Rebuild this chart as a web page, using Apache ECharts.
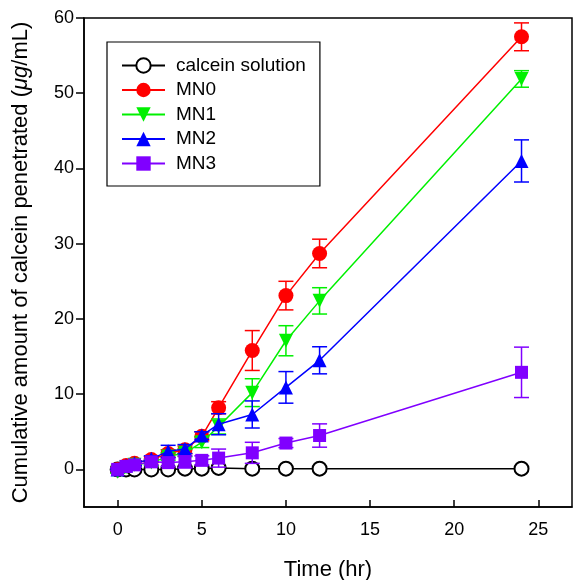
<!DOCTYPE html>
<html>
<head>
<meta charset="utf-8">
<script src="https://cdn.jsdelivr.net/npm/echarts@6/dist/echarts.min.js"></script>
<style>
  html, body { margin: 0; padding: 0; background: #fff; }
  #chart { width: 576px; height: 580px; }
</style>
</head>
<body>
<div id="chart"></div>
<script>
// sampling times (hr)
const times = [0, 0.5, 1, 2, 3, 4, 5, 6, 8, 10, 12, 24];

const calcein    = [0, 0, 0, 0, 0, 0.1, 0.1, 0.2, 0.1, 0.1, 0.1, 0.1];
const calceinErr = [0, 0, 0, 0, 0, 0, 0, 0, 0, 0, 0, 0];
const mn0    = [0, 0.5, 0.8, 1.3, 2.1, 2.6, 4.4, 8.2, 15.8, 23.1, 28.7, 57.5];
const mn0Err = [0.1, 0.3, 0.3, 0.4, 0.5, 0.5, 0.6, 0.8, 2.65, 1.9, 1.9, 1.85];
const mn1    = [-0.3, 0.3, 0.6, 0.9, 1.7, 2.2, 3.6, 5.7, 10.2, 17.1, 22.4, 51.9];
const mn1Err = [0.2, 0.3, 0.3, 0.4, 0.5, 0.5, 0.7, 1.0, 1.85, 2.0, 1.75, 1.1];
const mn2    = [0, 0.5, 0.8, 1.4, 2.4, 2.7, 4.5, 6.0, 7.3, 10.9, 14.5, 41.0];
const mn2Err = [0.1, 0.3, 0.3, 0.4, 0.8, 0.6, 0.5, 1.4, 1.8, 2.1, 1.8, 2.8];
const mn3    = [0, 0.4, 0.6, 1.0, 0.9, 1.0, 1.2, 1.5, 2.2, 3.5, 4.5, 12.9];
const mn3Err = [0.2, 0.3, 0.3, 0.4, 0.5, 0.8, 0.6, 1.2, 1.4, 0.6, 1.55, 3.35];

const xTicks = [0, 5, 10, 15, 20, 25];
const yTicks = [0, 10, 20, 30, 40, 50, 60];

const FONT = 'Arial, "Liberation Sans", sans-serif';

const groups = [
  { name: 'calcein solution', vals: calcein, errs: calceinErr, color: '#000000', symbol: 'emptyCircle', size: 14 },
  { name: 'MN0', vals: mn0, errs: mn0Err, color: '#ff0000', symbol: 'circle', size: 15 },
  { name: 'MN1', vals: mn1, errs: mn1Err, color: '#00f000', symbol: 'triangle', size: 14, rotate: 180 },
  { name: 'MN2', vals: mn2, errs: mn2Err, color: '#0000ff', symbol: 'triangle', size: 14 },
  { name: 'MN3', vals: mn3, errs: mn3Err, color: '#8000ff', symbol: 'rect', size: 13 }
];

function errorBar(color) {
  return function (params, api) {
    const x = api.value(0), y = api.value(1), e = api.value(2);
    if (!e) return null;
    const top = api.coord([x, y + e]);
    const bot = api.coord([x, y - e]);
    const w = 7.5;
    const style = { stroke: color, lineWidth: 1.5 };
    return {
      type: 'group',
      children: [
        { type: 'line', shape: { x1: top[0], y1: top[1], x2: bot[0], y2: bot[1] }, style },
        { type: 'line', shape: { x1: top[0] - w, y1: top[1], x2: top[0] + w, y2: top[1] }, style },
        { type: 'line', shape: { x1: bot[0] - w, y1: bot[1], x2: bot[0] + w, y2: bot[1] }, style }
      ]
    };
  };
}

const series = [];
groups.forEach((g, k) => {
  series.push({
    name: g.name + ' err',
    type: 'custom',
    renderItem: errorBar(g.color),
    data: times.map((t, i) => [t, g.vals[i], g.errs[i]]),
    encode: { x: 0, y: 1 },
    z: 2 + k * 2,
    silent: true
  });
  series.push({
    name: g.name,
    type: 'line',
    data: times.map((t, i) => [t, g.vals[i]]),
    symbol: g.symbol,
    symbolSize: g.size,
    symbolRotate: g.rotate || 0,
    showAllSymbol: true,
    color: g.color,
    lineStyle: { color: g.color, width: 1.5 },
    itemStyle: { color: g.symbol === 'emptyCircle' ? '#000' : g.color, borderColor: g.color, borderWidth: g.symbol === 'emptyCircle' ? 1.5 : 0 },
    z: 3 + k * 2,
    animation: false
  });
});

const chart = echarts.init(document.getElementById('chart'));
chart.setOption({
  animation: false,
  backgroundColor: '#ffffff',
  grid: {
    left: 84, right: 4, top: 18, bottom: 73,
    outerBoundsMode: 'none',
    show: true, borderColor: '#000', borderWidth: 1.5
  },
  legend: {
    data: groups.map(g => g.name),
    orient: 'vertical',
    left: 107, top: 42,
    padding: [14, 14, 13, 14],
    borderColor: '#000', borderWidth: 1.2,
    itemWidth: 43, itemHeight: 18, itemGap: 5.5,
    textStyle: { fontFamily: FONT, fontSize: 19, lineHeight: 19, color: '#000', padding: [0, 0, 0, 6] }
  },
  xAxis: {
    type: 'value', min: -2, max: 27,
    name: 'Time (hr)', nameLocation: 'middle', nameGap: 52,
    nameTextStyle: { fontFamily: FONT, fontSize: 22, color: '#000' },
    axisLine: { onZero: false, lineStyle: { color: '#000', width: 1.5 } },
    axisTick: { inside: true, length: 7, customValues: xTicks, lineStyle: { color: '#000', width: 1.5 } },
    axisLabel: { customValues: xTicks, margin: 14, fontFamily: FONT, fontSize: 18, color: '#000' },
    splitLine: { show: false }
  },
  yAxis: {
    type: 'value', min: -5, max: 60,
    name: 'Cumulative amount of calcein penetrated ({i|μg}/mL)',
    nameLocation: 'middle', nameGap: 52,
    nameTextStyle: {
      fontFamily: FONT, fontSize: 22, color: '#000',
      rich: { i: { fontFamily: FONT, fontSize: 22, fontStyle: 'italic', color: '#000' } }
    },
    axisLine: { onZero: false, lineStyle: { color: '#000', width: 1.5 } },
    axisTick: { inside: false, length: 8, customValues: yTicks, lineStyle: { color: '#000', width: 1.5 } },
    axisLabel: { customValues: yTicks, margin: 10, fontFamily: FONT, fontSize: 18, color: '#000' },
    splitLine: { show: false }
  },
  series: series
});
</script>
</body>
</html>
